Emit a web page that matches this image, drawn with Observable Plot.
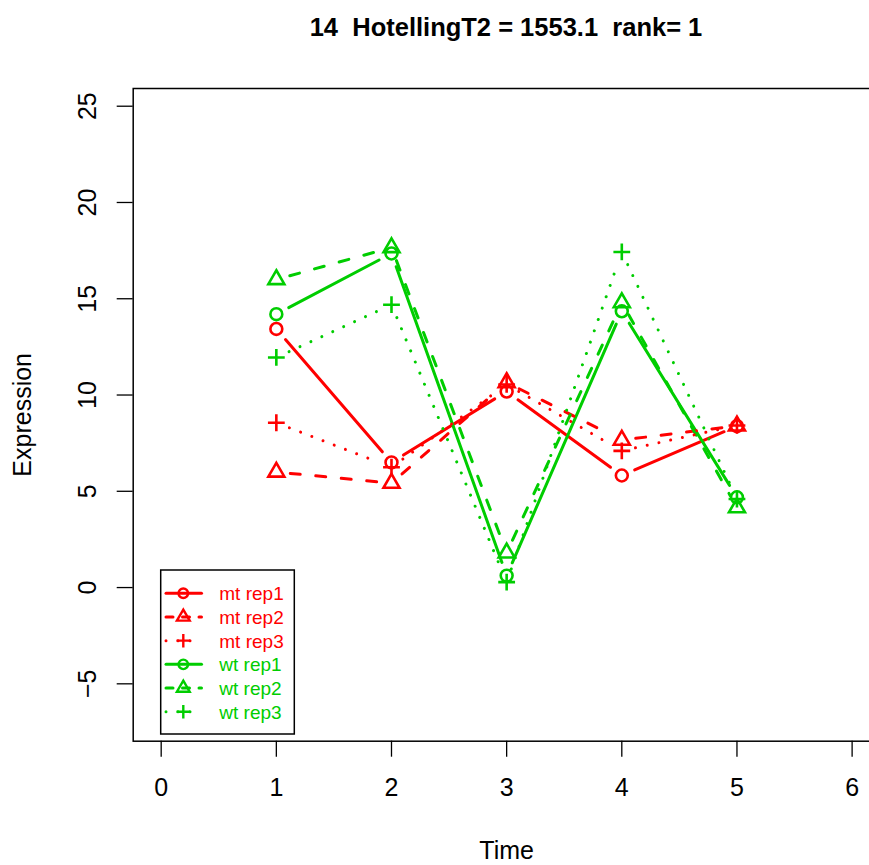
<!DOCTYPE html>
<html><head><meta charset="utf-8">
<script src="https://cdn.jsdelivr.net/npm/d3@7"></script>
<script src="https://cdn.jsdelivr.net/npm/@observablehq/plot@0.6"></script>
<style>
html,body{margin:0;padding:0;background:#fff;overflow:hidden}
#wrap{position:relative;width:869px;height:865px;font-family:"Liberation Sans",Arial,Helvetica,sans-serif}
#title{position:absolute;left:206px;width:600px;top:12px;line-height:30px;text-align:center;font-weight:bold;font-size:25.5px;white-space:pre;color:#000}
#chart{position:absolute;left:0;top:50px}
#legend{position:absolute;left:0;top:0}
</style></head>
<body><div id="wrap"><div id="title"></div><div id="chart"></div><svg id="legend" width="869" height="865"></svg></div>
<script>
// ---- data ----
const titleText = "14  HotellingT2 = 1553.1  rank= 1";
const time = [1, 2, 3, 4, 5];
const seriesNames = ["mt rep1", "mt rep2", "mt rep3", "wt rep1", "wt rep2", "wt rep3"];
const mtRep1 = [13.43, 6.5, 10.18, 5.82, 8.38];
const mtRep2 = [6.0, 5.42, 10.65, 7.66, 8.4];
const mtRep3 = [8.56, 6.25, 10.55, 7.1, 8.42];
const wtRep1 = [14.2, 17.35, 0.62, 14.35, 4.69];
const wtRep2 = [16.0, 17.66, 1.8, 14.8, 4.15];
const wtRep3 = [11.95, 14.69, 0.28, 17.43, 4.6];
const xTicks = [0, 1, 2, 3, 4, 5, 6];
const yTicks = [-5, 0, 5, 10, 15, 20, 25];
const xLabel = "Time";
const yLabel = "Expression";

document.getElementById("title").textContent = titleText;

const seriesValues = [mtRep1, mtRep2, mtRep3, wtRep1, wtRep2, wtRep3];
const points = [], segs = [];
seriesNames.forEach((name, si) => {
  const [group, r] = name.split(" ");
  const rep = +r.replace("rep", "");
  const vals = seriesValues[si];
  time.forEach((t, i) => {
    points.push({name, group, rep, t, v: vals[i]});
    if (i > 0) segs.push({name, group, rep, t1: time[i - 1], v1: vals[i - 1], t2: t, v2: vals[i]});
  });
});

// R pch-like open symbols
function symCircle(xc) { return {draw(c) { c.moveTo(xc, 0); c.arc(0, 0, xc, 0, 2 * Math.PI); }}; }
function symTriangle(xc) {
  const r = 1.5551 * xc, h = 1.3468 * xc, yc = 0.7776 * xc;
  return {draw(c) { c.moveTo(0, -r); c.lineTo(h, yc); c.lineTo(-h, yc); c.closePath(); }};
}
function symPlus(xc) {
  const a = Math.SQRT2 * xc;
  return {draw(c) { c.moveTo(-a, 0); c.lineTo(a, 0); c.moveTo(0, -a); c.lineTo(0, a); }};
}
const XC = 5.94;
const symbols = {1: symCircle(XC), 2: symTriangle(XC), 3: symPlus(XC)};
const dashes = {1: "none", 2: "10,15.6", 3: "0.01,12"};

// R type="b": leave a gap around each point
const GAP = 14;
function gapCurve(context) {
  let pts = [];
  return {
    areaStart() {}, areaEnd() {},
    lineStart() { pts = []; },
    point(x, y) { pts.push([+x, +y]); },
    lineEnd() {
      for (let i = 1; i < pts.length; i++) {
        const [ax, ay] = pts[i - 1], [bx, by] = pts[i];
        const dx = bx - ax, dy = by - ay, L = Math.hypot(dx, dy);
        if (L > 2 * GAP) {
          const ux = dx / L, uy = dy / L;
          context.moveTo(ax + ux * GAP, ay + uy * GAP);
          context.lineTo(bx - ux * GAP, by - uy * GAP);
        }
      }
    }
  };
}

const colorScale = {domain: ["mt", "wt"], range: ["#FF0000", "#00CD00"]};
const FONT = "25px";

const marks = [
  Plot.frame({stroke: "#000", strokeWidth: 1.5}),
  Plot.axisX({ticks: xTicks, tickFormat: d3.format("d"), tickSize: 16, tickPadding: 21, fontSize: FONT, label: null, strokeWidth: 1.3}),
  Plot.axisY({ticks: yTicks, tickSize: 16, tickFormat: () => "", label: null, strokeWidth: 1.3}),
  Plot.text(yTicks, {y: d => d, text: d => String(d).replace("-", "\u2212"), frameAnchor: "left", dx: -45, rotate: -90,
    textAnchor: "middle", lineAnchor: "middle", fontSize: FONT, fill: "#000"}),
  Plot.text([xLabel], {frameAnchor: "bottom", dy: 110, lineAnchor: "middle", fontSize: FONT, fill: "#000"}),
  Plot.text([yLabel], {frameAnchor: "left", dx: -110.7, rotate: -90, lineAnchor: "middle", textAnchor: "middle", fontSize: FONT, fill: "#000"})
];
[1, 2, 3].forEach(rep => {
  marks.push(Plot.link(segs.filter(d => d.rep === rep), {
    x1: "t1", y1: "v1", x2: "t2", y2: "v2", stroke: "group", strokeWidth: 3,
    strokeDasharray: dashes[rep], strokeLinecap: "round", curve: gapCurve
  }));
  marks.push(Plot.dot(points.filter(d => d.rep === rep), {
    x: "t", y: "v", stroke: "group", fill: "none", symbol: symbols[rep], strokeWidth: 2.6
  }));
});

const chart = Plot.plot({
  width: 869,
  height: 815,
  marginTop: 38,
  marginBottom: 124.3,
  marginLeft: 132.7,
  marginRight: -10.6,
  style: {fontFamily: '"Liberation Sans", Arial, Helvetica, sans-serif', fontSize: FONT, background: "#fff", color: "#000"},
  x: {domain: [-0.243, 6.243]},
  y: {domain: [-7.98, 25.92]},
  color: colorScale,
  marks
});
document.getElementById("chart").appendChild(chart);

// ---- legend ----
const lg = d3.select("#legend");
const colorOf = g => colorScale.range[colorScale.domain.indexOf(g)];
lg.append("rect").attr("x", 160.7).attr("y", 570).attr("width", 133.6).attr("height", 164)
  .attr("fill", "#fff").attr("stroke", "#000").attr("stroke-width", 1.5);
const legSym = {1: symCircle(XC * 0.8), 2: symTriangle(XC * 0.8), 3: symPlus(XC * 0.8)};
seriesNames.forEach((name, i) => {
  const [group, r] = name.split(" ");
  const rep = +r.replace("rep", "");
  const y = 593.3 + i * 23.68;
  const col = colorOf(group);
  lg.append("line").attr("x1", 166).attr("x2", 201.5).attr("y1", y).attr("y2", y)
    .attr("stroke", col).attr("stroke-width", 3).attr("stroke-linecap", "round")
    .attr("stroke-dasharray", rep === 1 ? null : rep === 2 ? "7,9.5" : "0.01,12");
  lg.append("path").attr("d", d3.symbol(legSym[rep])()).attr("transform", `translate(183.3,${y})`)
    .attr("fill", "none").attr("stroke", col).attr("stroke-width", 2.4);
  lg.append("text").attr("x", 219.3).attr("y", y).attr("dy", "0.36em").attr("fill", col)
    .attr("font-size", "19px").attr("font-family", '"Liberation Sans", Arial, sans-serif').text(name);
});
</script>
</body></html>
